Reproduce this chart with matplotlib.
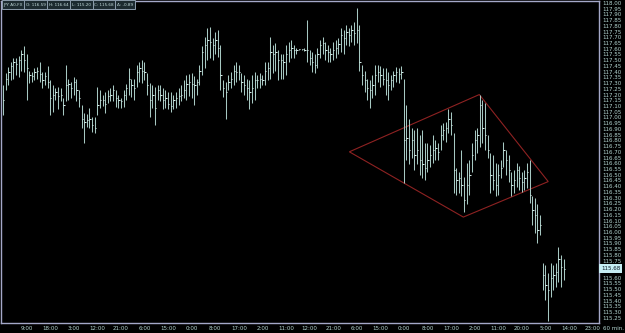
import matplotlib
matplotlib.use('Agg')
import matplotlib.pyplot as plt
import matplotlib.transforms as mtransforms
from matplotlib import font_manager
from matplotlib.patches import Rectangle, Polygon

# JPY A0-FX, 60 min bars (high / low / close)
highs = [117.28, 117.39, 117.44, 117.48, 117.52, 117.52, 117.54, 117.59, 117.62, 117.55,
         117.41, 117.40, 117.43, 117.44, 117.48, 117.40, 117.40, 117.45, 117.33, 117.28,
         117.26, 117.27, 117.26, 117.17, 117.46, 117.34, 117.31, 117.35, 117.34, 117.24,
         117.11, 117.04, 117.03, 117.08, 117.00, 117.00, 117.27, 117.24, 117.20, 117.22,
         117.24, 117.26, 117.28, 117.24, 117.20, 117.17, 117.24, 117.29, 117.43, 117.34,
         117.34, 117.46, 117.48, 117.50, 117.48, 117.39, 117.30, 117.28, 117.27, 117.28,
         117.28, 117.26, 117.24, 117.22, 117.22, 117.20, 117.22, 117.26, 117.28, 117.33,
         117.37, 117.38, 117.39, 117.36, 117.34, 117.46, 117.62, 117.70, 117.78, 117.79,
         117.69, 117.75, 117.76, 117.63, 117.33, 117.31, 117.37, 117.40, 117.46, 117.48,
         117.46, 117.39, 117.37, 117.34, 117.33, 117.37, 117.40, 117.37, 117.39, 117.37,
         117.48, 117.48, 117.70, 117.63, 117.65, 117.59, 117.55, 117.55, 117.63, 117.66,
         117.68, 117.63, 117.61, 117.60, 117.60, 117.61, 117.85, 117.59, 117.57, 117.55,
         117.61, 117.68, 117.70, 117.66, 117.63, 117.61, 117.66, 117.68, 117.69, 117.78,
         117.76, 117.81, 117.78, 117.81, 117.83, 117.96, 117.81, 117.46, 117.41, 117.34,
         117.33, 117.37, 117.46, 117.46, 117.45, 117.43, 117.43, 117.40, 117.37, 117.41,
         117.44, 117.43, 117.45, 117.34, 117.11, 116.99, 116.91, 116.89, 116.91, 116.85,
         116.89, 116.78, 116.78, 116.76, 116.85, 116.80, 116.78, 116.93, 116.95, 116.96,
         117.07, 117.05, 116.86, 116.56, 116.52, 116.72, 116.48, 116.60, 116.63, 116.78,
         116.89, 116.91, 117.20, 117.15, 117.13, 116.85, 116.69, 116.67, 116.60, 116.59,
         116.63, 116.79, 116.72, 116.67, 116.52, 116.54, 116.60, 116.58, 116.52, 116.54,
         116.60, 116.63, 116.31, 116.30, 116.24, 116.15, 115.73, 115.71, 115.64, 115.73,
         115.71, 115.73, 115.87, 115.80, 115.76]
lows = [117.02, 117.24, 117.28, 117.33, 117.34, 117.37, 117.35, 117.41, 117.40, 117.15,
        117.30, 117.31, 117.33, 117.34, 117.31, 117.26, 117.28, 117.26, 117.02, 117.05,
        117.15, 117.07, 117.14, 117.02, 117.14, 117.15, 117.17, 117.20, 117.14, 117.09,
        116.91, 116.78, 116.92, 116.91, 116.87, 116.86, 117.02, 117.08, 117.10, 117.04,
        117.13, 117.14, 117.14, 117.09, 117.08, 117.08, 117.09, 117.15, 117.20, 117.18,
        117.15, 117.27, 117.31, 117.30, 117.33, 117.20, 117.00, 117.08, 116.93, 117.15,
        117.14, 117.07, 117.08, 117.07, 117.05, 117.07, 117.08, 117.11, 117.14, 117.17,
        117.15, 117.19, 117.17, 117.11, 117.20, 117.28, 117.37, 117.43, 117.50, 117.52,
        117.50, 117.55, 117.53, 117.24, 117.18, 116.99, 117.24, 117.26, 117.28, 117.31,
        117.33, 117.22, 117.20, 117.15, 117.07, 117.13, 117.15, 117.26, 117.26, 117.28,
        117.28, 117.33, 117.34, 117.39, 117.41, 117.33, 117.34, 117.34, 117.37, 117.48,
        117.52, 117.52, 117.55, 117.59, 117.59, 117.58, 117.48, 117.46, 117.40, 117.39,
        117.43, 117.52, 117.55, 117.50, 117.48, 117.48, 117.50, 117.52, 117.55, 117.57,
        117.55, 117.63, 117.62, 117.66, 117.63, 117.65, 117.41, 117.28, 117.22, 117.15,
        117.08, 117.17, 117.20, 117.31, 117.27, 117.28, 117.20, 117.15, 117.24, 117.27,
        117.31, 117.30, 117.34, 116.43, 116.63, 116.59, 116.65, 116.54, 116.59, 116.50,
        116.47, 116.45, 116.52, 116.57, 116.60, 116.63, 116.63, 116.72, 116.80, 116.79,
        116.86, 116.85, 116.34, 116.32, 116.34, 116.31, 116.17, 116.24, 116.32, 116.52,
        116.63, 116.69, 116.74, 116.78, 116.72, 116.65, 116.34, 116.37, 116.31, 116.32,
        116.47, 116.57, 116.50, 116.44, 116.31, 116.34, 116.39, 116.37, 116.35, 116.37,
        116.38, 116.25, 116.06, 115.99, 115.90, 115.97, 115.49, 115.41, 115.22, 115.43,
        115.49, 115.52, 115.56, 115.52, 115.58]
closes = [117.15, 117.34, 117.40, 117.45, 117.48, 117.47, 117.50, 117.55, 117.50, 117.43,
          117.37, 117.36, 117.40, 117.41, 117.38, 117.33, 117.36, 117.31, 117.17, 117.20,
          117.22, 117.19, 117.20, 117.11, 117.28, 117.29, 117.26, 117.31, 117.24, 117.17,
          116.99, 116.96, 116.98, 116.99, 116.93, 116.91, 117.11, 117.15, 117.15, 117.12,
          117.19, 117.20, 117.24, 117.17, 117.15, 117.14, 117.20, 117.26, 117.34, 117.28,
          117.26, 117.40, 117.43, 117.41, 117.40, 117.28, 117.15, 117.20, 117.08, 117.24,
          117.20, 117.15, 117.17, 117.12, 117.10, 117.15, 117.17, 117.19, 117.20, 117.24,
          117.29, 117.31, 117.29, 117.28, 117.31, 117.41, 117.57, 117.63, 117.68, 117.66,
          117.63, 117.68, 117.61, 117.37, 117.26, 117.22, 117.31, 117.34, 117.41, 117.40,
          117.40, 117.31, 117.28, 117.26, 117.22, 117.26, 117.33, 117.33, 117.34, 117.33,
          117.41, 117.43, 117.57, 117.55, 117.57, 117.50, 117.50, 117.48, 117.55, 117.59,
          117.61, 117.59, 117.59, 117.60, 117.60, 117.59, 117.59, 117.52, 117.48, 117.46,
          117.55, 117.63, 117.65, 117.59, 117.57, 117.55, 117.59, 117.61, 117.64, 117.72,
          117.69, 117.75, 117.72, 117.76, 117.74, 117.76, 117.48, 117.37, 117.33, 117.26,
          117.24, 117.28, 117.37, 117.40, 117.37, 117.34, 117.33, 117.28, 117.33, 117.37,
          117.40, 117.38, 117.40, 116.80, 116.82, 116.72, 116.80, 116.67, 116.72, 116.63,
          116.59, 116.56, 116.63, 116.67, 116.72, 116.73, 116.70, 116.85, 116.89, 116.91,
          116.99, 116.93, 116.54, 116.45, 116.47, 116.41, 116.28, 116.41, 116.50, 116.67,
          116.80, 116.85, 117.11, 116.91, 116.85, 116.72, 116.50, 116.45, 116.41, 116.50,
          116.56, 116.72, 116.63, 116.54, 116.41, 116.45, 116.54, 116.47, 116.44, 116.47,
          116.52, 116.32, 116.19, 116.15, 116.02, 116.06, 115.62, 115.54, 115.49, 115.60,
          115.62, 115.65, 115.76, 115.69, 115.68]

time_labels = ['9:00', '18:00', '3:00', '12:00', '21:00', '6:00', '15:00', '0:00', '8:00',
               '17:00', '2:00', '11:00', '12:00', '21:00', '6:00', '15:00', '0:00', '8:00',
               '17:00', '2:00', '11:00', '20:00', '5:00', '14:00', '23:00']
time_pos = list(range(9, 9 * len(time_labels) + 1, 9))

price_ticks = [round(115.25 + 0.05 * k, 2) for k in range(56)]

header = ['JPY A0-FX', 'O: 116.59', 'H: 116.64', 'L: 115.20', 'C: 115.68', '\u0394: -0.89']

# diamond drawn on the chart (bar index, price)
diamond_x = [132.2, 181.8, 208.1, 175.7]
diamond_y = [116.70, 117.20, 116.44, 116.13]

# fonts: narrow face if there is one
names = {f.name for f in font_manager.fontManager.ttflist}
if 'Liberation Sans Narrow' in names:
    FONT, FS, HFS = 'Liberation Sans Narrow', 4.9, 4.0
else:
    FONT, FS, HFS = 'DejaVu Sans', 4.0, 3.0

BAR = '#a6c8c2'
TXT = '#b4d6d2'
FRAME = '#a4a8c8'

W, H = 625, 333
fig = plt.figure(figsize=(W / 100, H / 100), dpi=100, facecolor='black')
ax = fig.add_axes([1 / W, 10 / H, 598 / W, 322 / H], facecolor='black')

idx = list(range(len(highs)))
ax.vlines(idx, lows, highs, color=BAR, lw=0.75)
ax.hlines(closes, idx, [i + 0.5 for i in idx], color='#d4ece8', lw=0.75)

ax.add_patch(Polygon(list(zip(diamond_x, diamond_y)), closed=True, fill=False,
                     ec='#8e2222', lw=0.8))

ax.set_xlim(-0.76, 227.48)
ax.set_ylim(115.205, 118.017)

# the last-price box hides the scale labels right next to it
last = closes[-1]
ylabels = ['' if abs(p - last) < 0.045 else '%.2f' % p for p in price_ticks]

ax.yaxis.tick_right()
ax.set_yticks(price_ticks)
ax.set_yticklabels(ylabels)
ax.tick_params(axis='y', length=0, pad=2.2, labelsize=FS, labelcolor=TXT,
               labelfontfamily=FONT)
ax.set_xticks(time_pos)
ax.set_xticklabels(time_labels)
ax.tick_params(axis='x', length=0, pad=2.0, labelsize=FS, labelcolor=TXT,
               labelfontfamily=FONT)
for s in ax.spines.values():
    s.set_color(FRAME)
    s.set_linewidth(1.0)

# last price marker on the price scale
trans = mtransforms.blended_transform_factory(ax.transAxes, ax.transData)
ax.text(1.0 + 2 / 598, last, '%.2f' % last, transform=trans,
        ha='left', va='center', fontsize=FS, family=FONT, color='#0a1622',
        clip_on=False, zorder=10,
        bbox=dict(boxstyle='square,pad=0.3', fc='#c6eef4', ec='none'))

fig.text(603 / W, 4 / H, '60 min.', ha='left', va='center', fontsize=FS,
         family=FONT, color=TXT)

# header boxes
edges = [2, 24, 47, 70, 93, 115, 135]
for k, lab in enumerate(header):
    x0, x1 = edges[k], edges[k + 1]
    fig.patches.append(Rectangle((x0 / W, 1 - 9 / H), (x1 - x0) / W, 8.5 / H,
                                 transform=fig.transFigure, fc='#1c2a30',
                                 ec='#8c9cac', lw=0.7))
    fig.text((x0 + x1) / 2 / W, 1 - 4.6 / H, lab, ha='center', va='center',
             fontsize=HFS, family=FONT, color='#c4dcdc')

fig.savefig('out.png', dpi=100, facecolor='black')
